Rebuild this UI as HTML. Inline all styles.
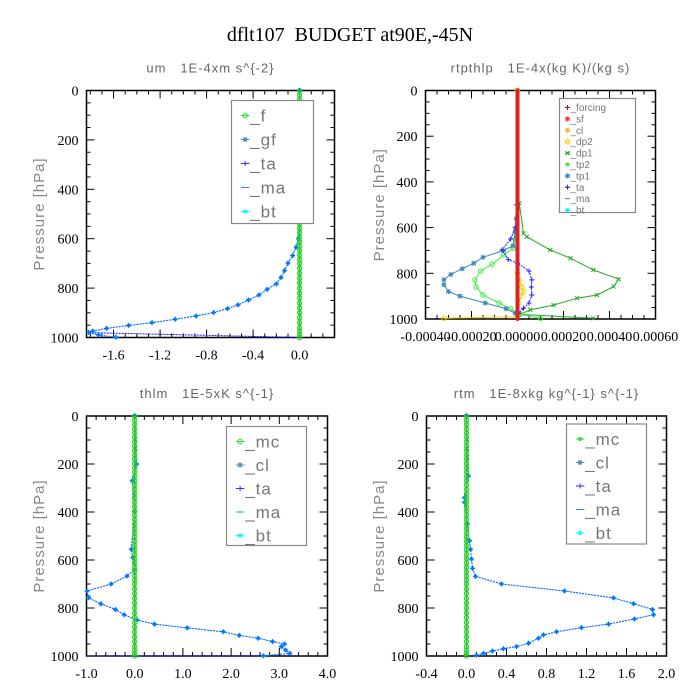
<!DOCTYPE html>
<html><head><meta charset="utf-8">
<style>
html,body{margin:0;padding:0;background:#fff;}
svg{display:block;}
svg text{white-space:pre;}
.tk{font-family:"Liberation Serif",serif;font-size:14px;fill:#000;}
.pt{font-family:"Liberation Sans",sans-serif;font-size:13px;fill:#666;letter-spacing:1px;}
.yl{font-family:"Liberation Sans",sans-serif;font-size:15px;fill:#888;letter-spacing:1px;}
</style></head>
<body>
<svg id="chart" width="700" height="700" viewBox="0 0 700 700" xmlns="http://www.w3.org/2000/svg">
<text x="350" y="41" text-anchor="middle" font-family="Liberation Serif,serif" font-size="20" fill="#000">dflt107  BUDGET at90E,-45N</text>
</svg>
<script>
// ---------- data ----------
const levels = [0,18,36,54,72,90,108,126,144,162,180,198,216,234,252,270,288,306,324,342,360,378,396,414,432,450,468,486,504,522,540,558,576,594,612,630,648,666,684,700,720,740,760,780,800,820,840,860,880,900,920,940,960,975,990,1000];
// um panel
const umP = [0,200,300,400,500,600,634,668,699,729,757,783,805,828,848,868,883,899,913,926,940,951,963,974,980,990,999];
const umV = [0,-0.02,0.02,0,0,-0.01,-0.03,-0.06,-0.10,-0.13,-0.16,-0.20,-0.28,-0.35,-0.44,-0.53,-0.62,-0.74,-0.89,-1.07,-1.27,-1.47,-1.66,-1.78,-1.815,-1.73,-1.58];
// thlm panel
const thP = [0,200,270,400,555,590,640,667,700,729,757,783,806,828,850,867,883,899,914,926,940,950,961,975,989,999];
const thV = [0,0.04,-0.05,0,-0.07,-0.04,0,-0.16,-0.49,-0.99,-0.96,-0.70,-0.40,-0.22,0.05,0.41,1.09,1.84,2.17,2.56,2.86,3.11,3.04,3.13,3.22,2.67];
// rtm panel
const rtP = [0,250,340,360,450,520,555,596,635,668,700,729,758,782,806,828,846,867,882,899,912,926,947,961,970,979,989,997];
const rtV = [0,0.02,-0.02,-0.02,0.01,0.03,0.04,0.05,0.06,0.09,0.35,0.98,1.47,1.67,1.86,1.87,1.68,1.42,1.15,0.90,0.77,0.72,0.62,0.50,0.37,0.26,0.17,0.10];
// rtpthlp panel (units 1e-4)
const dp1P = [0,450,493,625,640,698,734,785,826,858,895,909,939,960,980,997];
const dp1V = [0,0,0.08,0.26,0.4,1.42,2.3,3.3,4.4,4.18,3.46,2.59,1.57,0.55,0.1,3.3];
const tp1P = [0,560,620,680,700,730,756,780,805,828,850,880,900,930,955,975,990];
const tp1V = [0,-0.05,-0.1,-0.2,-0.6,-1.5,-1.9,-2.4,-2.9,-3.2,-3.2,-3.0,-2.5,-1.4,-0.5,-0.1,0];
const tp2P = [0,600,650,690,720,760,790,829,860,895,930,955,980,997];
const tp2V = [0,-0.05,-0.1,-0.2,-0.6,-1.1,-1.6,-1.85,-1.8,-1.5,-0.8,-0.3,0.1,1.0];
const taP = [0,500,600,650,698,740,756,790,829,860,895,930,953,975,995];
const taV = [0,-0.05,-0.1,-0.3,-0.68,-0.4,0,0.5,0.62,0.6,0.62,0.5,0.26,0.05,0];
const dp2P = [0,800,830,860,880,900,930,990,997];
const dp2V = [0,0,0.1,0.2,0.28,0.15,0.05,0,-3.2];
// tick labels
const umTicks = [-1.6,-1.2,-0.8,-0.4,0.0];
const rtpTicks = [-0.0004,-0.0002,0,0.0002,0.0004,0.0006];
const thTicks = [-1,0,1,2,3,4];
const rtTicks = [-0.4,0,0.4,0.8,1.2,1.6,2.0];
const pTicks = [0,200,400,600,800,1000];

// ---------- drawing ----------
const svg = document.getElementById('chart');
const NS = 'http://www.w3.org/2000/svg';
function mk(tag, attrs, parent){
  const e = document.createElementNS(NS, tag);
  for (const k in attrs) e.setAttribute(k, attrs[k]);
  (parent||svg).appendChild(e);
  return e;
}
function panel(o){
  const g = mk('g', {});
  
  
  const sx = v => o.x0 + (v - o.xmin) / (o.xmax - o.xmin) * (o.x1 - o.x0);
  const sy = p => o.y0 + p / 1000 * (o.y1 - o.y0);
  o.sx = sx; o.sy = sy; o.g = g;
  const fr = mk('rect', {x:o.x0, y:o.y0, width:o.x1-o.x0, height:o.y1-o.y0, fill:'none', stroke:'#000', 'stroke-width':1.5}, g);
  
  
  for (let p = 0; p <= 1000; p += 50){
    const L = p % 200 === 0 ? 8 : 4;
    mk('line', {x1:o.x0, x2:o.x0+L, y1:sy(p), y2:sy(p), stroke:'#000'}, g);
    mk('line', {x1:o.x1, x2:o.x1-L, y1:sy(p), y2:sy(p), stroke:'#000'}, g);
  }
  pTicks.forEach(p => {
    const t = mk('text', {x:o.x0-8, y:sy(p)+5, 'text-anchor':'end', class:'tk'}, g);
    t.textContent = String(p);
    
    
  });
  const n = Math.round((o.xmax - o.xmin) / o.minor);
  for (let i = 0; i <= n + 1; i++){
    const v = o.minorStart + i * o.minor;
    if (v > o.xmax + 1e-9) break;
    if (v < o.xmin - 1e-9) continue;
    const isMaj = Math.abs(Math.round((v - o.majorStart) / o.major) * o.major - (v - o.majorStart)) < o.minor * 0.01;
    const L = isMaj ? 8 : 4;
    mk('line', {x1:sx(v), x2:sx(v), y1:o.y1, y2:o.y1-L, stroke:'#000'}, g);
    mk('line', {x1:sx(v), x2:sx(v), y1:o.y0, y2:o.y0+L, stroke:'#000'}, g);
  }
  o.ticks.forEach((v, i) => {
    const t = mk('text', {x:sx(v), y:o.y1+22, 'text-anchor':'middle', class:'tk'}, g);
    t.textContent = o.labels[i];
    
    
  });
  const ti = mk('text', {x:(o.x0+o.x1)/2, y:o.y0-18, 'text-anchor':'middle', class:'pt'}, g);
  ti.textContent = o.title;
  
  
  const yl = mk('text', {x:0, y:0, 'text-anchor':'middle', class:'yl', transform:`translate(${o.ylx},${(o.y0+o.y1)/2}) rotate(-90)`}, g);
  yl.textContent = 'Pressure [hPa]';
  
  
  return o;
}
function series(o, P, V, color, name, marker, dash, w){
  const g = mk('g', {}, o.g);
  
  
  const pts = P.map((p, i) => o.sx(V[i]).toFixed(1) + ',' + o.sy(p).toFixed(1)).join(' ');
  mk('polyline', {points:pts, fill:'none', stroke:color, 'stroke-width':w||1, 'stroke-dasharray':dash||'none'}, g);
  P.forEach((p, i) => drawMarker(g, o.sx(V[i]), o.sy(p), marker, color));
}
function drawMarker(g, x, y, m, c){
  if (m === 'plus'){
    mk('path', {d:`M${x-2.5},${y}h5M${x},${y-2.5}v5`, stroke:c, 'stroke-width':1}, g);
  } else if (m === 'x'){
    mk('path', {d:`M${x-2},${y-2}l4,4M${x-2},${y+2}l4,-4`, stroke:c, 'stroke-width':1}, g);
  } else if (m === 'circle'){
    mk('circle', {cx:x, cy:y, r:2.2, fill:'none', stroke:c}, g);
  } else if (m === 'dot'){
    mk('circle', {cx:x, cy:y, r:2, fill:c}, g);
  } else if (m === 'star'){
    mk('path', {d:`M${x-2.5},${y}h5M${x},${y-2.5}v5M${x-2},${y-2}l4,4M${x-2},${y+2}l4,-4`, stroke:c, 'stroke-width':1}, g);
  }
}
function zeroLine(o, color, name, marker, w){
  series(o, levels, levels.map(() => 0), color, name, marker, null, w);
}
function legend(o, x, y, w, h, items, fs, dy, ty){
  const g = mk('g', {}, o.g);
  
  
  mk('rect', {x, y, width:w, height:h, fill:'#fff', stroke:'#888', 'stroke-width':1.2}, g);
  items.forEach((it, i) => {
    const e = mk('g', {}, g);
    
    
    const cy = y + ty + i * dy;
    mk('line', {x1:x+fs*0.55, x2:x+fs*1.05, y1:cy, y2:cy, stroke:it[1]}, e);
    drawMarker(e, x+fs*0.8, cy, it[2], it[1]);
    const t = mk('text', {x:x+fs*1.1, y:cy+fs*0.35, 'font-family':'Liberation Sans,sans-serif', 'font-size':fs, fill:'#777', 'letter-spacing':fs>12?1:0}, e);
    t.textContent = it[0];
  });
}
function fmt(v, d){ return v.toFixed(d); }

// Panel 1: um
const p1 = panel({name:'panel-um', x0:86.5, x1:334.5, y0:90.5, y1:337.5, xmin:-1.833, xmax:0.3,
  minor:0.1, minorStart:-1.8, major:0.4, majorStart:-1.6, ticks:umTicks, labels:umTicks.map(v=>fmt(v,1)),
  title:'um   1E-4xm s^{-2}', ylx:44});
series(p1, [980,1000], [-1.815,0], '#1010ff', 'series-ta-bottom', null, '2,1');
series(p1, umP, umV, '#00bbff', 'series-bt', 'dot', '2,1');
series(p1, umP, umV, '#1560ff', 'series-ta', 'plus', '2,1');
zeroLine(p1, '#22cc22', 'series-f', 'circle', 2);
legend(p1, 231.5, 100.5, 82, 123, [['_f','#33dd33','circle'],['_gf','#4a8ab0','star'],['_ta','#2233ff','plus'],['_ma','#1e90ff',null],['_bt','#00ffff','dot']], 17, 24, 15);

// Panel 2: rtpthlp (values in 1e-4)
const p2 = panel({name:'panel-rtpthlp', x0:425.5, x1:655.5, y0:90.5, y1:319, xmin:-4, xmax:6,
  minor:0.5, minorStart:-4, major:2, majorStart:-4, ticks:rtpTicks.map(v=>v*1e4), labels:rtpTicks.map(v=>fmt(v,5)),
  title:'rtpthlp   1E-4x(kg K)/(kg s)', ylx:384});
series(p2, dp1P, dp1V, '#22aa22', 'series-dp1', 'x');
series(p2, tp2P, tp2V, '#44ee44', 'series-tp2', 'circle');
series(p2, tp1P, tp1V, '#3a8ab5', 'series-tp1', 'star');
series(p2, taP, taV, '#2222ff', 'series-ta', 'plus', '2,1');
series(p2, dp2P, dp2V, '#ffcc00', 'series-dp2', 'circle');
zeroLine(p2, '#dd2222', 'series-forcing', 'dot', 4);
legend(p2, 559.5, 98.5, 76, 114, [['_forcing','#cc0000','plus'],['_sf','#ff3333','star'],['_cl','#ffaa33','star'],['_dp2','#ffcc00','circle'],['_dp1','#22aa22','x'],['_tp2','#44ee44','dot'],['_tp1','#3a8ab5','star'],['_ta','#2222ff','plus'],['_ma','#1e90ff',null],['_bt','#00ffff','dot']], 10, 11.4, 9);

// Panel 3: thlm
const p3 = panel({name:'panel-thlm', x0:86.5, x1:327.5, y0:416, y1:656, xmin:-1, xmax:4,
  minor:0.2, minorStart:-1, major:1, majorStart:-1, ticks:thTicks, labels:thTicks.map(v=>fmt(v,1)),
  title:'thlm   1E-5xK s^{-1}', ylx:44});
series(p3, [999,1000], [2.67,-1], '#1010ff', 'series-ta-bottom', null, '2,1');
series(p3, thP, thV, '#00bbff', 'series-bt', 'dot', '2,1');
series(p3, thP, thV, '#1560ff', 'series-ta', 'plus', '2,1');
zeroLine(p3, '#22cc22', 'series-mc', 'circle', 2);
legend(p3, 226.5, 426.5, 80, 119, [['_mc','#33dd33','circle'],['_cl','#4a8ab0','star'],['_ta','#2233ff','plus'],['_ma','#1e90ff',null],['_bt','#00ffff','dot']], 17, 23.5, 15);

// Panel 4: rtm
const p4 = panel({name:'panel-rtm', x0:426.5, x1:666.5, y0:416, y1:656, xmin:-0.4, xmax:2.0,
  minor:0.1, minorStart:-0.4, major:0.4, majorStart:-0.4, ticks:rtTicks, labels:rtTicks.map(v=>fmt(v,1)),
  title:'rtm   1E-8xkg kg^{-1} s^{-1}', ylx:384});
series(p4, rtP, rtV, '#00bbff', 'series-bt', 'dot', '2,1');
series(p4, rtP, rtV, '#1560ff', 'series-ta', 'plus', '2,1');
zeroLine(p4, '#22cc22', 'series-mc', 'circle', 2);
legend(p4, 566.5, 424, 80, 120, [['_mc','#33dd33','dot'],['_cl','#4a8ab0','star'],['_ta','#2233ff','plus'],['_ma','#1e90ff',null],['_bt','#00ffff','dot']], 17, 23.5, 15);
</script>
</body></html>
